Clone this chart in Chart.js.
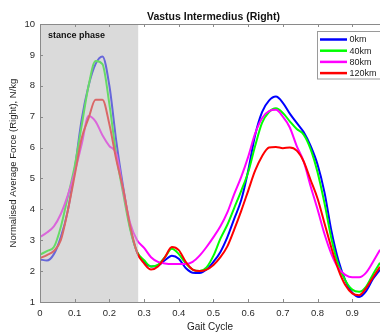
<!DOCTYPE html>
<html>
<head>
<meta charset="utf-8">
<script src="https://cdn.jsdelivr.net/npm/chart.js@4.4.1/dist/chart.umd.min.js"></script>
<style>
  html, body { margin: 0; padding: 0; background: #fff; overflow: hidden; }
  #wrap { width: 380px; height: 332px; position: relative; }
</style>
</head>
<body>
<div id="wrap"><canvas id="c"></canvas></div>
<script>
// Gait cycle samples (fraction of the cycle)
const gaitCycle = [0, 0.02, 0.04, 0.06, 0.08, 0.10, 0.12, 0.14, 0.16, 0.18,
                   0.20, 0.22, 0.24, 0.26, 0.28, 0.30, 0.32, 0.34, 0.36, 0.38,
                   0.40, 0.42, 0.44, 0.46, 0.48, 0.50, 0.52, 0.54, 0.56, 0.58,
                   0.60, 0.62, 0.64, 0.66, 0.68, 0.70, 0.72, 0.74, 0.76, 0.78,
                   0.80, 0.82, 0.84, 0.86, 0.88, 0.90, 0.92, 0.94, 0.96, 0.98];

// Normalised average force (N/kg) after each running distance
const force0km = [2.38, 2.34, 2.55, 3.1, 3.95, 5.3, 6.9, 8.0, 8.7, 8.95,
                  8.0, 6.2, 4.7, 3.4, 2.6, 2.3, 2.15, 2.18, 2.35, 2.5,
                  2.4, 2.1, 1.95, 1.94, 2.05, 2.3, 2.62, 3.1, 3.7, 4.3,
                  5.25, 6.4, 7.15, 7.52, 7.65, 7.45, 7.1, 6.8, 6.5, 6.05,
                  5.45, 4.55, 3.3, 2.35, 1.7, 1.3, 1.16, 1.35, 1.75, 2.05];
const force40km = [2.53, 2.65, 2.78, 3.43, 4.4, 5.4, 6.7, 8.0, 8.8, 8.7,
                   7.4, 5.75, 4.5, 3.35, 2.62, 2.35, 2.15, 2.2, 2.45, 2.72,
                   2.55, 2.25, 2.05, 2.0, 2.12, 2.5, 3.05, 3.5, 4.05, 4.6,
                   5.2, 6.05, 6.8, 7.15, 7.27, 7.12, 6.85, 6.6, 6.42, 5.95,
                   5.2, 4.2, 3.05, 2.2, 1.7, 1.4, 1.33, 1.5, 1.9, 2.27];
const force80km = [3.1, 3.25, 3.45, 3.85, 4.45, 5.2, 6.1, 7.02, 6.85, 6.4,
                   6.05, 5.8, 4.6, 3.55, 3.0, 2.75, 2.45, 2.3, 2.25, 2.23,
                   2.23, 2.23, 2.3, 2.5, 2.78, 3.1, 3.45, 3.9, 4.5, 5.05,
                   5.7, 6.45, 6.95, 7.18, 7.22, 7.0, 6.65, 6.05, 5.55, 4.75,
                   4.0, 3.2, 2.55, 2.1, 1.88, 1.8, 1.8, 1.95, 2.3, 2.69];
const force120km = [2.42, 2.52, 2.65, 3.0, 3.95, 5.1, 6.3, 6.95, 7.55, 7.55,
                    6.75, 5.6, 4.65, 3.45, 2.6, 2.25, 2.05, 2.15, 2.45, 2.78,
                    2.68, 2.3, 2.05, 2.0, 2.05, 2.2, 2.45, 2.8, 3.35, 3.95,
                    4.6, 5.25, 5.72, 6.0, 6.02, 5.98, 6.0, 5.9, 5.55, 4.95,
                    4.35, 3.55, 2.75, 2.05, 1.55, 1.28, 1.22, 1.45, 1.8, 2.14];

const seriesLabels = ['0km', '40km', '80km', '120km'];
const seriesColors = ['#0000ff', '#00ff00', '#ff00ff', '#ff0000'];
const seriesValues = [force0km, force40km, force80km, force120km];

const xTicks = [0, 0.1, 0.2, 0.3, 0.4, 0.5, 0.6, 0.7, 0.8, 0.9];
const yTicks = [1, 2, 3, 4, 5, 6, 7, 8, 9, 10];
const stanceEnd = 0.283;

const chartTitle = 'Vastus Intermedius (Right)';
const stanceLabel = 'stance phase';
const xTitle = 'Gait Cycle';
const yTitle = 'Normalised Average Force (Right), N/kg';

const FONT = '"Liberation Sans", Arial, Helvetica, sans-serif';
const AXIS_COLOR = '#8a8a8a';

const datasets = seriesValues.map((vals, i) => ({
  label: seriesLabels[i],
  data: gaitCycle.map((g, k) => ({ x: g, y: vals[k] })),
  borderColor: seriesColors[i],
  backgroundColor: seriesColors[i],
  borderWidth: 2,
  pointRadius: 0,
  fill: false,
  cubicInterpolationMode: 'monotone',
  order: seriesValues.length - i
}));

// Stance shading, axis box, inward ticks, title and legend
const decorations = {
  id: 'decorations',
  afterDatasetsDraw(chart) {
    const { ctx, chartArea: a, scales: { x, y } } = chart;
    ctx.save();
    const xe = x.getPixelForValue(stanceEnd);
    ctx.fillStyle = 'rgba(188,188,188,0.55)';
    ctx.fillRect(a.left, a.top, xe - a.left, a.bottom - a.top);

    ctx.fillStyle = '#111';
    ctx.font = 'bold 9px ' + FONT;
    ctx.textAlign = 'left';
    ctx.textBaseline = 'middle';
    ctx.fillText(stanceLabel, a.left + 8, a.top + 12);

    // axis lines (left, bottom, top)
    ctx.strokeStyle = AXIS_COLOR;
    ctx.lineWidth = 1;
    ctx.beginPath();
    ctx.moveTo(a.left + 0.5, a.top + 0.5);
    ctx.lineTo(a.left + 0.5, a.bottom + 0.5);
    ctx.lineTo(a.right, a.bottom + 0.5);
    ctx.moveTo(a.left + 0.5, a.top + 0.5);
    ctx.lineTo(a.right, a.top + 0.5);
    // inward tick marks
    xTicks.forEach(v => {
      const px = Math.round(x.getPixelForValue(v)) + 0.5;
      ctx.moveTo(px, a.bottom);
      ctx.lineTo(px, a.bottom - 3);
      ctx.moveTo(px, a.top);
      ctx.lineTo(px, a.top + 3);
    });
    yTicks.forEach(v => {
      const py = Math.round(y.getPixelForValue(v)) + 0.5;
      ctx.moveTo(a.left, py);
      ctx.lineTo(a.left + 3, py);
    });
    ctx.stroke();
    ctx.restore();
  },
  afterDraw(chart) {
    const { ctx, chartArea: a, scales: { x } } = chart;
    ctx.save();
    // title, centred over the 0..1 span of the cycle
    ctx.fillStyle = '#111';
    ctx.font = 'bold 10.5px ' + FONT;
    ctx.textAlign = 'center';
    ctx.textBaseline = 'middle';
    ctx.fillText(chartTitle, x.getPixelForValue(0.5), 17);

    // legend box
    const bx = 317.5, by = 31.5, bw = 70, bh = 47.5;
    ctx.fillStyle = '#fff';
    ctx.fillRect(bx, by, bw, bh);
    ctx.strokeStyle = '#9a9a9a';
    ctx.lineWidth = 1;
    ctx.strokeRect(bx, by, bw, bh);
    ctx.font = '9px ' + FONT;
    ctx.textAlign = 'left';
    ctx.textBaseline = 'middle';
    seriesLabels.forEach((lab, i) => {
      const ry = 39.5 + i * 11.2;
      ctx.strokeStyle = seriesColors[i];
      ctx.lineWidth = 2.5;
      ctx.beginPath();
      ctx.moveTo(320, ry);
      ctx.lineTo(347, ry);
      ctx.stroke();
      ctx.fillStyle = '#222';
      ctx.fillText(lab, 349.5, ry + 0.5);
    });
    ctx.restore();
  }
};

new Chart(document.getElementById('c'), {
  type: 'line',
  data: { datasets },
  options: {
    responsive: true,
    maintainAspectRatio: false,
    animation: false,
    events: [],
    layout: { padding: { top: 24, right: 0, bottom: 0, left: 0 } },
    plugins: {
      legend: { display: false },
      title: { display: false },
      tooltip: { enabled: false }
    },
    scales: {
      x: {
        type: 'linear',
        min: 0,
        max: 0.98,
        afterBuildTicks: s => { s.ticks = xTicks.map(v => ({ value: v })); },
        afterFit: s => { s.height = 30; },
        grid: { display: false, drawTicks: false },
        border: { display: false },
        ticks: {
          color: '#2a2a2a',
          font: { family: FONT, size: 9.5 },
          padding: 6,
          maxRotation: 0,
          autoSkip: false,
          callback: v => String(v)
        },
        title: {
          display: true,
          text: xTitle,
          color: '#222',
          font: { family: FONT, size: 10, lineHeight: 1 },
          padding: { top: 0, bottom: 0 }
        }
      },
      y: {
        type: 'linear',
        min: 1,
        max: 10,
        afterBuildTicks: s => { s.ticks = yTicks.map(v => ({ value: v })); },
        afterFit: s => { s.width = 40; },
        grid: { display: false, drawTicks: false },
        border: { display: false },
        ticks: {
          color: '#2a2a2a',
          font: { family: FONT, size: 9.5 },
          padding: 5,
          autoSkip: false,
          callback: v => String(v)
        },
        title: {
          display: true,
          text: yTitle,
          color: '#222',
          font: { family: FONT, size: 9.5 },
          padding: { top: 8, bottom: 0 }
        }
      }
    }
  },
  plugins: [decorations]
});
</script>
</body>
</html>
